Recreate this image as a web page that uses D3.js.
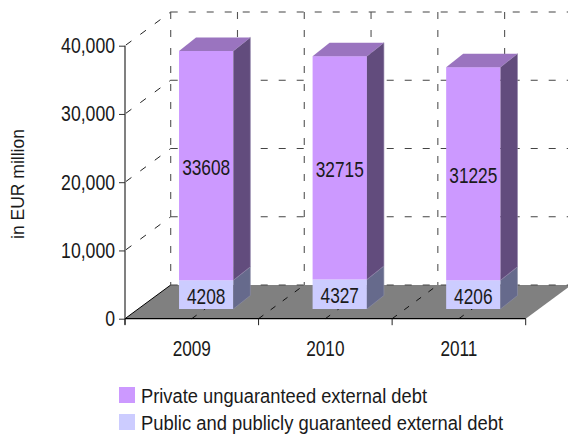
<!DOCTYPE html>
<html><head><meta charset="utf-8">
<script src="https://cdn.jsdelivr.net/npm/d3@7"></script>
<style>html,body{margin:0;background:#fff}svg{display:block}text{font-family:"Liberation Sans",Arial,sans-serif;fill:#1a1a1a}</style>
</head><body><svg id="c" width="568" height="437"></svg>
<script>
const categories = ["2009","2010","2011"];
const privateDebt = [33608,32715,31225];
const publicDebt = [4208,4327,4206];
const yTicks = [0,10000,20000,30000,40000];
const seriesNames = ["Private unguaranteed external debt","Public and publicly guaranteed external debt"];
const seriesFront = ["#cc99ff","#ccccff"];
const seriesSide = ["#624c7d","#666a8c"];
const seriesEdge = ["#8f7fa8","#8f90a8"];
const seriesTop = ["#9a74bf","#9a9abf"];

const svg = d3.select("#c");
const x = d3.scaleBand().domain(categories).range([125,525.7]);
const y = d3.scaleLinear().domain([0,40000]).range([318.7,45.7]);
const depth = {dx:45.7, dy:33.7};
const bar = {w:54.3, offX:14.4, offY:9.7, sideX:17, sideY:13.5};
const narrow = (sel,k)=>sel.each(function(){
  const l=this.getComputedTextLength();
  this.setAttribute("textLength",l*k);
  this.setAttribute("lengthAdjust","spacingAndGlyphs");
});
const x0=x.range()[0], x1=x.range()[1], base=y(0);

// floor
svg.append("path").attr("fill","#808080").attr("d",d3.line()([
  [x0,base],[x0+depth.dx,base-depth.dy],[x1+depth.dx,base-depth.dy],[x1,base]]));
svg.append("line").attr("x1",x0).attr("y1",base).attr("x2",x0+depth.dx).attr("y2",base-depth.dy).attr("stroke","#000");

// grid
const grid = svg.append("g").attr("fill","none");
const dash = "7,11";
yTicks.forEach(t=>{
  grid.append("line").attr("x1",x0+depth.dx).attr("x2",Math.min(x1+depth.dx,568)).attr("y1",y(t)-depth.dy).attr("y2",y(t)-depth.dy)
    .attr("stroke","#444").attr("stroke-width",1.1).attr("stroke-dasharray",dash);
  if(t>0) grid.append("line").attr("x1",x0).attr("y1",y(t)).attr("x2",x0+depth.dx).attr("y2",y(t)-depth.dy)
    .attr("stroke","#222").attr("stroke-dasharray","0,1 7,10");
});
const vx = [];
categories.forEach((c,i)=>{vx.push(x(c)); vx.push(x(c)+x.bandwidth()/2);});
vx.forEach(v=>{
  grid.append("line").attr("x1",v+depth.dx).attr("x2",v+depth.dx).attr("y1",y(40000)-depth.dy).attr("y2",base-depth.dy)
    .attr("stroke","#555").attr("stroke-width",1.1).attr("stroke-dasharray",dash);
  if(v>x0) grid.append("line").attr("x1",v).attr("y1",base).attr("x2",v+depth.dx).attr("y2",base-depth.dy)
    .attr("stroke","#111").attr("stroke-dasharray","6,9");
});

// bars
categories.forEach((c,i)=>{
  const fx = x(c)+x.bandwidth()/2-bar.w/2+bar.offX;
  const bY = v=>y(v)-bar.offY;
  const stack=[[0,publicDebt[i],1],[publicDebt[i],publicDebt[i]+privateDebt[i],0]];
  stack.forEach(([a,b,s])=>{
    svg.append("rect").attr("x",fx).attr("y",bY(b)).attr("width",bar.w).attr("height",bY(a)-bY(b)).attr("fill",seriesFront[s]);
    svg.append("path").attr("fill",seriesSide[s]).attr("stroke",seriesEdge[s]).attr("stroke-width",0.6).attr("d",d3.line()([
      [fx+bar.w,bY(a)],[fx+bar.w+bar.sideX,bY(a)-bar.sideY],[fx+bar.w+bar.sideX,bY(b)-bar.sideY],[fx+bar.w,bY(b)]]));
  });
  const t=publicDebt[i]+privateDebt[i];
  svg.append("path").attr("fill",seriesTop[0]).attr("d",d3.line()([
    [fx,bY(t)],[fx+bar.sideX,bY(t)-bar.sideY],[fx+bar.w+bar.sideX,bY(t)-bar.sideY],[fx+bar.w,bY(t)]]));
  svg.append("text").attr("x",fx+bar.w/2).attr("y",(bY(publicDebt[i])+bY(t))/2+1).attr("dy","0.36em")
    .attr("text-anchor","middle").attr("font-size",22).text(privateDebt[i]).call(narrow,0.785);
  svg.append("text").attr("x",fx+bar.w/2).attr("y",(bY(0)+bY(publicDebt[i]))/2+1).attr("dy","0.36em")
    .attr("text-anchor","middle").attr("font-size",22).text(publicDebt[i]).call(narrow,0.785);
});

// axes
const ya = svg.append("g").attr("transform",`translate(${x0},0)`).call(d3.axisLeft(y).tickValues(yTicks).tickSize(6).tickPadding(4).tickFormat(d3.format(",")));
ya.select(".domain").attr("stroke","#808080").attr("stroke-width",2).attr("d",`M0,${y(40000)}V${base+6}`);
ya.selectAll(".tick line").attr("stroke","#333");
ya.selectAll("text").attr("font-size",21.5).attr("font-family",null).call(narrow,0.82);

const xa = svg.append("g").attr("transform",`translate(0,${base})`).call(d3.axisBottom(x).tickSize(0).tickPadding(22));
xa.select(".domain").attr("stroke","#000").attr("stroke-width",1.2).attr("d",`M${x0},0H${x1}`);
xa.selectAll("text").attr("font-size",21.5).attr("font-family",null).call(narrow,0.8);
categories.concat([null]).forEach(c=>{
  const v = c===null? x1 : x(c);
  xa.append("line").attr("x1",v).attr("x2",v).attr("y1",0).attr("y2",6.5).attr("stroke","#222");
});

// y title
svg.append("text").attr("transform","translate(24,184) rotate(-90)").attr("text-anchor","middle")
  .attr("font-size",19).text("in EUR million").call(narrow,0.92);

// legend
const legend = svg.append("g");
seriesNames.forEach((n,i)=>{
  const ly = 387+27*i;
  legend.append("rect").attr("x",119).attr("y",ly).attr("width",16).attr("height",16).attr("fill",seriesFront[i]);
  legend.append("text").attr("x",141).attr("y",ly+16).attr("font-size",20).text(n)
    .each(function(){this.setAttribute("textLength",i?362:286);this.setAttribute("lengthAdjust","spacingAndGlyphs");});
});
</script></body></html>
